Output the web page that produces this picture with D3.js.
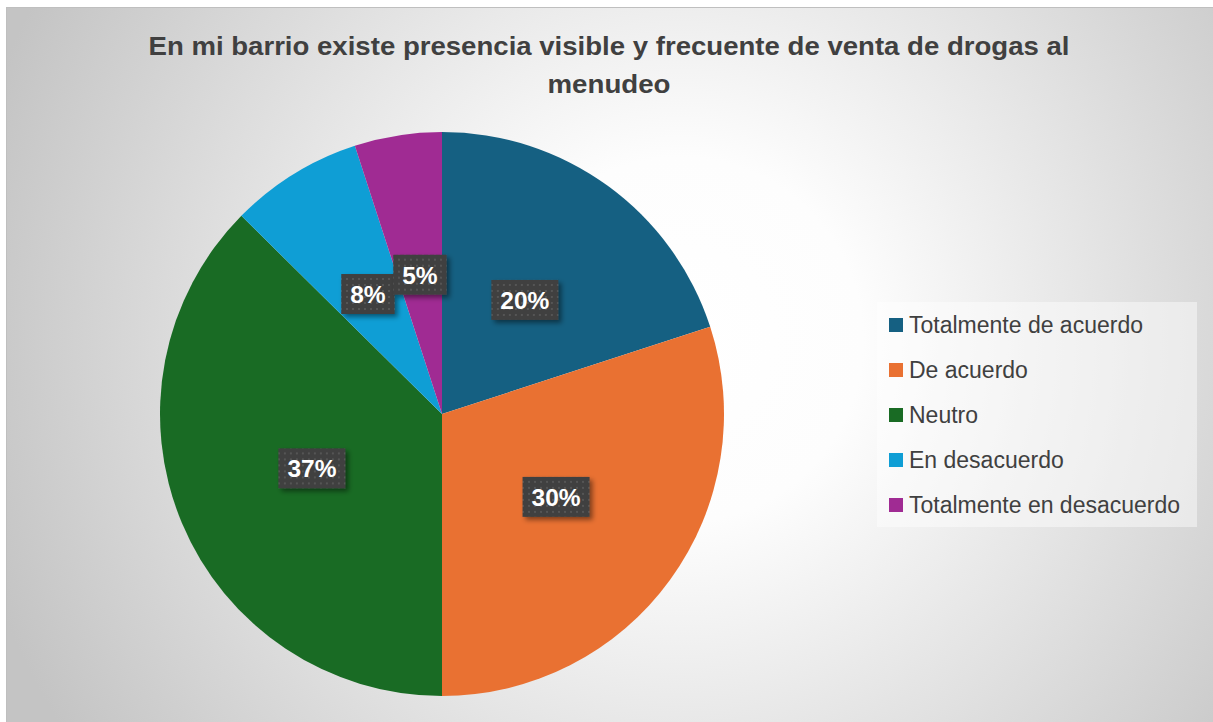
<!DOCTYPE html>
<html>
<head>
<meta charset="utf-8">
<script src="https://cdn.jsdelivr.net/npm/d3@7"></script>
<style>
  body { margin: 0; background: #fff; }
  svg { display: block; }
  .title { font-family: "Liberation Sans", Arial, sans-serif; font-weight: bold; fill: #404040; }
  .legend text { font-family: "Liberation Sans", Arial, sans-serif; fill: #404040; }
  .label text { font-family: "Liberation Sans", Arial, sans-serif; font-weight: bold; fill: #fff; }
</style>
</head>
<body>
<svg id="chart"></svg>
<script>
// chart data
const categories = ["Totalmente de acuerdo", "De acuerdo", "Neutro", "En desacuerdo", "Totalmente en desacuerdo"];
const values = [20, 30, 37.4, 7.6, 5];
const colors = ["#156082", "#E97132", "#196B24", "#0F9ED5", "#A02B93"];
const titleLines = ["En mi barrio existe presencia visible y frecuente de venta de drogas al", "menudeo"];

const width = 1213, height = 722;
const svg = d3.select("#chart").attr("width", width).attr("height", height);

const defs = svg.append("defs");

// radial background like the office style
const bg = defs.append("radialGradient")
  .attr("id", "bg")
  .attr("gradientUnits", "userSpaceOnUse")
  .attr("cx", 680).attr("cy", 340).attr("r", 730);
bg.append("stop").attr("offset", "0").attr("stop-color", "#ffffff");
bg.append("stop").attr("offset", "0.25").attr("stop-color", "#fdfdfd");
bg.append("stop").attr("offset", "1").attr("stop-color", "#c4c4c4");

// dotted dark pattern for data labels
const pat = defs.append("pattern")
  .attr("id", "dots")
  .attr("patternUnits", "userSpaceOnUse")
  .attr("width", 6).attr("height", 6);
pat.append("rect").attr("width", 6).attr("height", 6).attr("fill", "#404040");
pat.append("rect").attr("x", 2).attr("y", 2).attr("width", 2).attr("height", 2).attr("fill", "#555555");

const shadow = defs.append("filter").attr("id", "shadow")
  .attr("x", "-30%").attr("y", "-30%").attr("width", "160%").attr("height", "160%");
shadow.append("feDropShadow")
  .attr("dx", 3).attr("dy", 3).attr("stdDeviation", 2.5)
  .attr("flood-color", "#000").attr("flood-opacity", 0.45);

svg.append("rect")
  .attr("x", 6.5).attr("y", 7.5)
  .attr("width", width - 6).attr("height", height - 7)
  .attr("fill", "url(#bg)")
  .attr("stroke", "#bfbfbf").attr("stroke-width", 1);

// title
const title = svg.append("g").attr("class", "title");
title.selectAll("text")
  .data(titleLines)
  .join("text")
  .attr("x", 609)
  .attr("y", (d, i) => 55 + i * 38)
  .attr("text-anchor", "middle")
  .attr("font-size", 25)
  .attr("textLength", (d, i) => i === 0 ? 921 : 123)
  .attr("lengthAdjust", "spacingAndGlyphs")
  .text(d => d);

/* ~~~~~~~~~ pie ~~~~~~~~~ */
const cx = 442, cy = 414, radius = 282;
const pieData = d3.pie().sort(null)(values);
const arc = d3.arc().innerRadius(0).outerRadius(radius);

const pieG = svg.append("g").attr("transform", "translate(" + cx + "," + cy + ")");
pieG.selectAll("path")
  .data(pieData)
  .join("path")
  .attr("d", arc)
  .attr("fill", (d, i) => colors[i]);

// data labels, placed at the centroid (half radius)
const total = d3.sum(values);
const labels = pieG.selectAll("g.label")
  .data(pieData)
  .join("g")
  .attr("class", "label")
  .attr("transform", d => "translate(" + arc.centroid(d) + ")");

labels.append("text")
  .attr("text-anchor", "middle")
  .attr("dy", "0.36em")
  .attr("font-size", 24.5)
  .text(d => Math.round(d.value / total * 100) + "%");

labels.each(function() {
  const g = d3.select(this);
  const w = g.select("text").node().getComputedTextLength();
  g.insert("rect", "text")
    .attr("x", -w / 2 - 9).attr("y", -20)
    .attr("width", w + 18).attr("height", 40)
    .attr("fill", "url(#dots)")
    .attr("filter", "url(#shadow)");
});

/* ~~~~~~~~~ legend ~~~~~~~~~ */
const legend = svg.append("g").attr("class", "legend");
legend.append("rect")
  .attr("x", 877).attr("y", 302)
  .attr("width", 320).attr("height", 225)
  .attr("fill", "#ffffff").attr("fill-opacity", 0.45);

const rowY = d3.scalePoint().domain(categories).range([325, 505]);
const item = legend.selectAll("g.item")
  .data(categories)
  .join("g")
  .attr("class", "item")
  .attr("transform", d => "translate(889," + rowY(d) + ")");
item.append("rect")
  .attr("x", 0).attr("y", -7)
  .attr("width", 14).attr("height", 14)
  .attr("fill", (d, i) => colors[i]);
item.append("text")
  .attr("x", 20)
  .attr("dy", "0.36em")
  .attr("font-size", 23)
  .text(d => d);
</script>
</body>
</html>
